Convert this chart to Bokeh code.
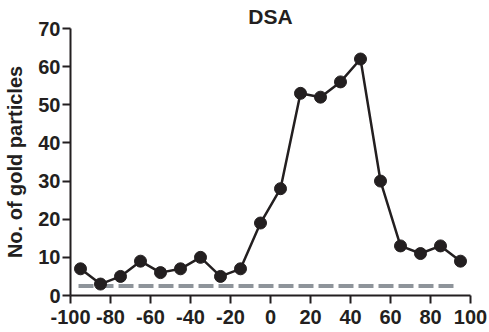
from bokeh.plotting import figure
from bokeh.embed import file_html
from bokeh.resources import INLINE
from bokeh.models import Range1d, FixedTicker, PrintfTickFormatter

# Data
x_vals = [-95, -85, -75, -65, -55, -45, -35, -25, -15, -5, 5, 15, 25, 35, 45, 55, 65, 75, 85, 95]
counts = [7, 3, 5, 9, 6, 7, 10, 5, 7, 19, 28, 53, 52, 56, 62, 30, 13, 11, 13, 9]
baseline_x = [-96, 92]
baseline_y = [2.5, 2.5]
x_ticks = [-100, -80, -60, -40, -20, 0, 20, 40, 60, 80, 100]
y_ticks = [0, 10, 20, 30, 40, 50, 60, 70]
title_text = "DSA"
y_label = "No. of gold particles"

FONT = "Liberation Sans"
INK = "#231f20"

p = figure(width=489, height=332, output_backend="svg", toolbar_location=None,
           x_range=Range1d(-100, 100), y_range=Range1d(0, 70),
           min_border_left=70, min_border_right=19, min_border_top=28, min_border_bottom=37,
           title=title_text)
p.title.align = "center"
p.title.text_font = FONT
p.title.text_font_size = "21px"
p.title.text_font_style = "bold"
p.title.text_color = INK
p.title.standoff = 2

p.outline_line_color = None
p.xgrid.grid_line_color = None
p.ygrid.grid_line_color = None

p.line(baseline_x, baseline_y, line_color="#8e949a", line_width=4, line_dash="15 5")
p.line(x_vals, counts, line_color=INK, line_width=2.5)
p.scatter(x_vals, counts, size=12, fill_color=INK, line_color=INK)

for ax in (p.xaxis[0], p.yaxis[0]):
    ax.axis_line_width = 2
    ax.axis_line_color = INK
    ax.major_tick_line_width = 2
    ax.major_tick_line_color = INK
    ax.major_tick_out = 8
    ax.major_tick_in = 0
    ax.minor_tick_line_color = None
    ax.major_label_text_font = FONT
    ax.major_label_text_font_size = "20px"
    ax.major_label_text_font_style = "bold"
    ax.major_label_text_color = INK
    ax.formatter = PrintfTickFormatter(format="%d")

p.xaxis[0].ticker = FixedTicker(ticks=x_ticks)
p.yaxis[0].ticker = FixedTicker(ticks=y_ticks)
p.xaxis[0].major_label_standoff = 6
p.yaxis[0].major_label_standoff = 2

p.yaxis[0].axis_label = y_label
p.yaxis[0].axis_label_text_font = FONT
p.yaxis[0].axis_label_text_font_size = "20px"
p.yaxis[0].axis_label_text_font_style = "bold"
p.yaxis[0].axis_label_text_color = INK
p.yaxis[0].axis_label_standoff = 9

open("out.html", "w").write(file_html(p, INLINE))
